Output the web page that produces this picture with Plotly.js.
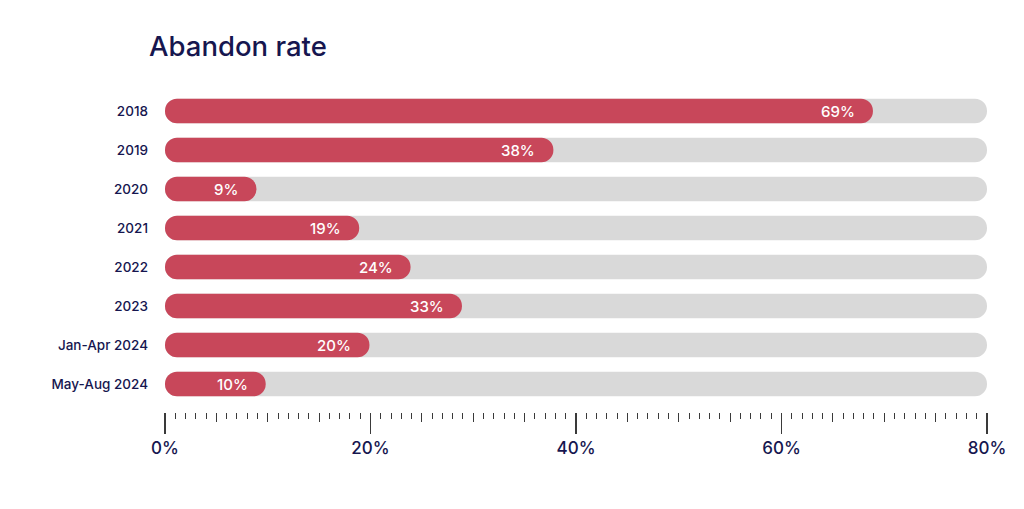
<!DOCTYPE html>
<html>
<head>
<meta charset="utf-8">
<script src="https://cdn.plot.ly/plotly-3.0.1.min.js"></script>
<style>html,body{margin:0;padding:0;background:#fff;}#chart{width:1024px;height:509px;}</style>
</head>
<body>
<div id="chart"></div>
<script>
const categories = ["2018", "2019", "2020", "2021", "2022", "2023", "Jan-Apr 2024", "May-Aug 2024"];
const barValues = [68.9, 37.8, 8.9, 18.9, 23.9, 28.9, 19.9, 9.8];
const valueLabels = ["69%", "38%", "9%", "19%", "24%", "33%", "20%", "10%"];
const trackMax = 80;
const tickVals = [0, 20, 40, 60, 80];
const tickText = ["0%", "20%", "40%", "60%", "80%"];

const RED = "#C8475A";
const GRAY = "#D9D9D9";
const NAVY = "#16164F";
const FONT = "Inter, 'Open Sans', sans-serif";
const BW = 0.63;

const zeros = categories.map(() => 0);
const track = categories.map(() => trackMax);

function bar(color, x, name) {
  return {
    type: "bar", orientation: "h", y: categories, x: x, base: zeros,
    width: BW, marker: {color: color, cornerradius: "50%", line: {width: 0}},
    hoverinfo: "skip", showlegend: false, name: name
  };
}

const traces = [
  bar(GRAY, track, "track"),
  bar(RED, barValues, "value"),
  {type: "scatter", mode: "markers", x: [0, trackMax], y: [categories[0], categories[0]],
   xaxis: "x2", marker: {opacity: 0}, hoverinfo: "skip", showlegend: false}
];

const annotations = barValues.map((v, i) => ({
  x: v, y: i, xref: "x", yref: "y", text: valueLabels[i],
  showarrow: false, xanchor: "right", yanchor: "middle", xshift: -16,
  font: {family: FONT, size: 15, weight: 500, color: "#ffffff"}
}));

const layout = {
  width: 1024, height: 509,
  margin: {l: 165, r: 37, t: 83, b: 97},
  paper_bgcolor: "#ffffff", plot_bgcolor: "#ffffff",
  barmode: "overlay",
  title: {text: "Abandon rate", x: 149/1024, xref: "container", xanchor: "left",
          y: 1 - 46/509, yref: "container", yanchor: "middle",
          font: {family: FONT, size: 27.5, weight: 500, color: NAVY}},
  xaxis: {range: [0, trackMax], showgrid: false, zeroline: false, showline: false,
          tickvals: tickVals, ticktext: tickText, ticks: "outside", ticklen: 21,
          tickwidth: 1.3, tickcolor: "#3a3a3a",
          tickfont: {family: FONT, size: 17, weight: 500, color: NAVY},
          minor: {dtick: 1, tick0: 0, ticks: "outside", ticklen: 6, tickwidth: 1, tickcolor: "#3a3a3a", showgrid: false},
          fixedrange: true},
  xaxis2: {range: [0, trackMax], overlaying: "x", anchor: "y", side: "bottom",
           showgrid: false, zeroline: false, showline: false,
           dtick: 5, tick0: 0, ticks: "outside", ticklen: 9, tickwidth: 1, tickcolor: "#3a3a3a",
           showticklabels: false},
  yaxis: {type: "category", categoryorder: "array", categoryarray: categories,
          range: [7.718, -0.718], showgrid: false, zeroline: false, showline: false,
          ticks: "", ticklabelstandoff: 16,
          tickfont: {family: FONT, size: 13.5, weight: 500, color: NAVY}},
  annotations: annotations,
  showlegend: false
};

Plotly.newPlot("chart", traces, layout, {displayModeBar: false, staticPlot: true});
</script>
</body>
</html>
